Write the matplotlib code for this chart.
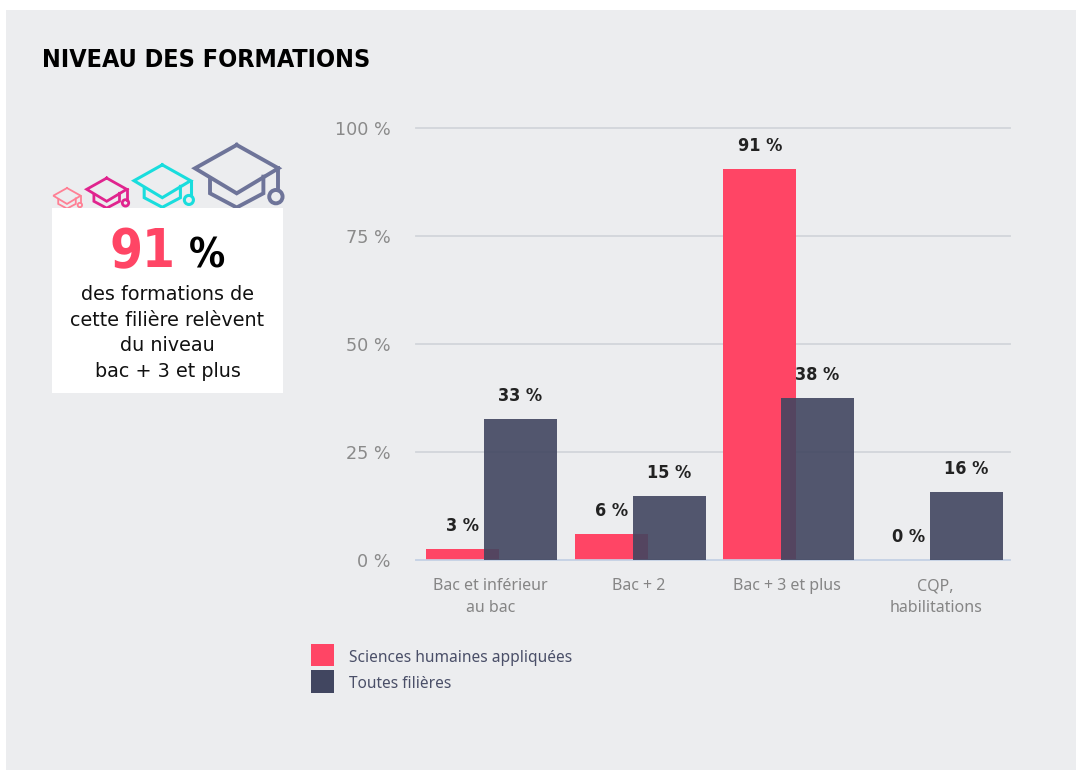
from matplotlib import pyplot as plt
from matplotlib.patches import Rectangle, Circle
import numpy as np

W, H = 1076, 771

categories = ['Bac et inférieur\nau bac', 'Bac + 2', 'Bac + 3 et plus', 'CQP,\nhabilitations']
filiere = [2.6, 6.0, 90.4, 0.0]
toutes = [32.6, 14.7, 37.6, 15.7]
filiere_labels = ['3 %', '6 %', '91 %', '0 %']
toutes_labels = ['33 %', '15 %', '38 %', '16 %']
y_ticks = [0, 25, 50, 75, 100]
y_labels = ['0 %', '25 %', '50 %', '75 %', '100 %']
series_names = ['Sciences humaines appliquées', 'Toutes filières']
text_lines = ['des formations de', 'cette filière relèvent', 'du niveau', 'bac + 3 et plus']

RED = '#FF4565'
DARK = '#414660'
PANEL = '#ECEDEF'

fig = plt.figure(figsize=(W / 100, H / 100), dpi=100, facecolor='white')

# overlay in pixel coordinates for the panel, the box and the hats
bg = fig.add_axes([0, 0, 1, 1], zorder=0)
bg.set_xlim(0, W)
bg.set_ylim(H, 0)
bg.axis('off')
bg.add_patch(Rectangle((6, 10), W - 6, 760, color=PANEL, lw=0))


def draw_hat(cx, cy, r, color, lw):
    top = [(0, -.56), (1, 0), (0, .6), (-1, 0), (0, -.56)]
    skirt = [(-.64, .28), (-.64, .6), (0, .94), (.64, .6), (.64, .2)]
    tassel = [(1, 0), (1, .52)]
    for pts in (top, skirt, tassel):
        pts = np.array(pts)
        bg.plot(cx + pts[:, 0] * r, cy + pts[:, 1] * r, color=color, lw=lw,
                solid_joinstyle='miter')
    bg.add_patch(Circle((cx + .94 * r, cy + .68 * r), .16 * r, fill=False, ec=color, lw=lw))


draw_hat(236.7, 168.3, 41.7, '#6E7499', 2.8)
draw_hat(162.3, 180.7, 28.3, '#19DDDD', 2.2)
draw_hat(106.7, 189.3, 20, '#E0248E', 2.0)
draw_hat(67, 195.7, 13.7, '#FF8094', 1.3)
bg.add_patch(Rectangle((52, 208), 231, 185, color='white', lw=0, zorder=5))

bg.text(42, 60, 'NIVEAU DES FORMATIONS', fontsize=18, fontweight='bold', fontstretch='condensed',
        color='black', va='center', ha='left')
bg.text(175, 252, '91', fontsize=38, fontweight='bold', fontstretch='condensed', color=RED,
        va='center', ha='right', zorder=6)
bg.text(189, 257, '%', fontsize=29, fontweight='bold', fontstretch='condensed', color='black',
        va='center', ha='left', zorder=6)
for i, line in enumerate(text_lines):
    bg.text(167.5, 295 + i * 25.4, line, fontsize=13.8, color='#111111', va='center', ha='center', zorder=6)

# main chart
ax = fig.add_axes([416 / W, 1 - 560 / H, 594 / W, 432 / H], zorder=1)
ax.patch.set_alpha(0)
x = np.arange(len(categories))
ax.bar(x - .184, filiere, .492, color=RED, label=series_names[0], zorder=2)
ax.bar(x + .204, toutes, .492, color=DARK, alpha=.9, label=series_names[1], zorder=3)

for xs, vals, labs in ((x - .184, filiere, filiere_labels), (x + .204, toutes, toutes_labels)):
    for xi, v, lab in zip(xs, vals, labs):
        ax.annotate(lab, (xi, v), xytext=(0, 16.6), textcoords='offset points', ha='center',
                    va='center', fontsize=13, fontweight='bold', fontstretch='condensed',
                    color='#222222', zorder=4)

ax.set_xlim(-.5, 3.5)
ax.set_ylim(0, 100)
ax.set_yticks(y_ticks, y_labels, fontsize=12.7, color='#8A8A8A', va='center_baseline')
ax.set_xticks(x, categories, fontsize=11.5, color='#858585', family='Noto Sans', linespacing=1.5)
ax.tick_params(axis='y', length=0, pad=18.5)
ax.tick_params(axis='x', length=0, pad=13)
ax.grid(axis='y', color='#D2D5DA', lw=1.3, zorder=1, clip_on=False)
ax.set_axisbelow(True)
for s in ['top', 'right', 'left']:
    ax.spines[s].set_visible(False)
ax.spines['bottom'].set_color('#C5D3E8')
ax.spines['bottom'].set_linewidth(1.2)

leg = fig.legend(loc='upper left', bbox_to_anchor=(311 / W, 1 - 644 / H), frameon=False,
                 prop={'family': 'Noto Sans', 'size': 11.15}, labelcolor='#4A4F68',
                 handlelength=1.47, handleheight=1.85, handletextpad=1.0, labelspacing=.25,
                 borderpad=0, borderaxespad=0)
leg.legend_handles[1].set_alpha(1)
for t in leg.get_texts():
    t.set_y(-2)

plt.savefig('out.png', dpi=100, facecolor=fig.get_facecolor())
